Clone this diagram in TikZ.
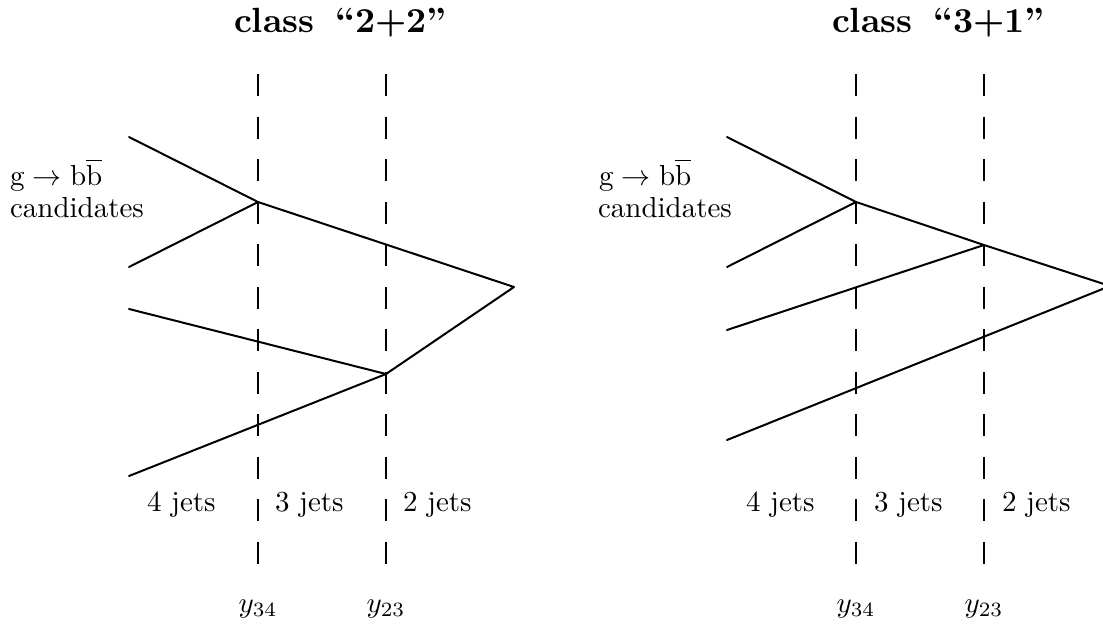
\documentclass[tikz,border=0pt]{standalone}
\usepackage{graphicx}
\newcommand{\sbx}[1]{\scalebox{2.9}{#1}}
\newcommand{\ttl}[1]{\scalebox{3.5}{\bfseries class\hspace{6pt}#1}}
\tikzset{
  txt/.style={inner sep=0pt, outer sep=0pt},
  jet/.style={line width=2pt, line cap=round, line join=round},
  cut/.style={line width=2.6pt, dash pattern=on 22pt off 20.5pt},
}
\begin{document}
\begin{tikzpicture}[x=1pt,y=-1pt]
\useasboundingbox (0,0) rectangle (1103,624);
\clip (0,0) rectangle (1103,624);

% ---------------- left panel: class 2+2 ----------------
\node[txt, anchor=base] (tl) at (340.5,32) {\ttl{``2+2''}};
\coordinate (lt1) at (258,74); \coordinate (lb1) at (258,564);
\coordinate (lt2) at (386,74); \coordinate (lb2) at (386,564);
\draw[cut] (lt1) -- (lb1);
\draw[cut] (lt2) -- (lb2);

\coordinate (A1) at (129,137);
\coordinate (A2) at (129,267);
\coordinate (V1) at (258,202);
\coordinate (B1) at (129,309);
\coordinate (B2) at (129,476);
\coordinate (V2) at (386,374);
\coordinate (P)  at (514,287);
\draw[jet] (A1) -- (V1) -- (P) -- (V2) -- (B1);
\draw[jet] (A2) -- (V1);
\draw[jet] (B2) -- (V2);

\node[txt, anchor=base west] (lg) at (10,185) {\sbx{$\mathrm{g}\rightarrow\mathrm{b}\overline{\mathrm{b}}$}};
\node[txt, anchor=base west] (lc) at (10,217) {\sbx{candidates}};
\node[txt, anchor=base west] (l4) at (147,511) {\sbx{4 jets}};
\node[txt, anchor=base west] (l3) at (275,511) {\sbx{3 jets}};
\node[txt, anchor=base west] (l2) at (403,511) {\sbx{2 jets}};
\node[txt, anchor=base] (ly34) at (258,612) {\sbx{$y_{34}$}};
\node[txt, anchor=base] (ly23) at (386,612) {\sbx{$y_{23}$}};

% ---------------- right panel: class 3+1 ----------------
\node[txt, anchor=base] (tr) at (938.5,32) {\ttl{``3+1''}};
\coordinate (rt1) at (856,74); \coordinate (rb1) at (856,564);
\coordinate (rt2) at (984,74); \coordinate (rb2) at (984,564);
\draw[cut] (rt1) -- (rb1);
\draw[cut] (rt2) -- (rb2);

\coordinate (C1) at (727,137);
\coordinate (C2) at (727,267);
\coordinate (W1) at (856,202);
\coordinate (D1) at (727,330);
\coordinate (W2) at (984,245);
\coordinate (D2) at (727,440);
\coordinate (Q)  at (1110,286);
\draw[jet] (C1) -- (W1) -- (W2) -- (Q) -- (D2);
\draw[jet] (C2) -- (W1);
\draw[jet] (D1) -- (W2);

\node[txt, anchor=base west] (rg) at (599,185) {\sbx{$\mathrm{g}\rightarrow\mathrm{b}\overline{\mathrm{b}}$}};
\node[txt, anchor=base west] (rc) at (598,217) {\sbx{candidates}};
\node[txt, anchor=base west] (r4) at (746,511) {\sbx{4 jets}};
\node[txt, anchor=base west] (r3) at (874,511) {\sbx{3 jets}};
\node[txt, anchor=base west] (r2) at (1002,511) {\sbx{2 jets}};
\node[txt, anchor=base] (ry34) at (856,612) {\sbx{$y_{34}$}};
\node[txt, anchor=base] (ry23) at (984,612) {\sbx{$y_{23}$}};
\end{tikzpicture}
\end{document}
